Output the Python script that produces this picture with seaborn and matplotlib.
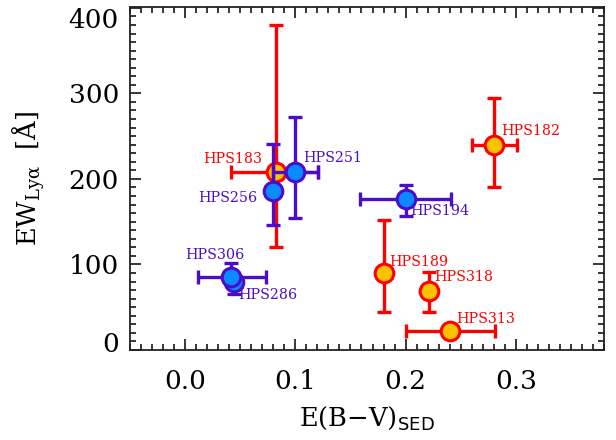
import numpy as np
import pandas as pd
import seaborn as sns
import matplotlib
matplotlib.use("Agg")
import matplotlib.pyplot as plt
from matplotlib.ticker import MultipleLocator, FixedLocator
from matplotlib.transforms import ScaledTranslation

# ---- data ----
red_names = ["HPS183", "HPS182", "HPS189", "HPS318", "HPS313"]
red_ebv = [0.082, 0.280, 0.180, 0.221, 0.240]
red_ebv_lo = [0.040, 0.020, 0.0, 0.0, 0.040]
red_ebv_hi = [0.039, 0.021, 0.0, 0.0, 0.041]
red_ew = [208, 240, 90, 69, 22]
red_ew_lo = [87, 50, 46, 25, 0]
red_ew_hi = [172, 55, 62, 22, 0]

blue_names = ["HPS251", "HPS256", "HPS194", "HPS286", "HPS306"]
blue_ebv = [0.100, 0.080, 0.200, 0.044, 0.042]
blue_ebv_lo = [0.020, 0.0, 0.041, 0.0, 0.030]
blue_ebv_hi = [0.021, 0.0, 0.041, 0.0, 0.031]
blue_ew = [208, 186, 176, 79, 85]
blue_ew_lo = [54, 40, 19, 14, 0]
blue_ew_hi = [64, 55, 17, 0, 17]

# label offsets (pixels) and alignment
red_lab = {"HPS183": (-13, 13, "right"), "HPS182": (7, 14, "left"),
           "HPS189": (6, 11, "left"), "HPS318": (5, 14, "left"),
           "HPS313": (7, 12, "left")}
blue_lab = {"HPS251": (8, 14, "left"), "HPS256": (-16, -7, "right"),
            "HPS194": (5, -12, "left"), "HPS286": (5, -13, "left"),
            "HPS306": (-17, 22, "center")}

RED = "#ff0000"
YEL = "#ffc200"
BEDGE = "#4b0ccb"
BFILL = "#0a8aff"

sns.set_theme(style="ticks")
plt.rcParams["font.family"] = ["DejaVu Serif", "DejaVu Sans"]
plt.rcParams["mathtext.fontset"] = "dejavuserif"
plt.rcParams["text.color"] = "black"
plt.rcParams["axes.labelcolor"] = "black"
plt.rcParams["xtick.color"] = "black"
plt.rcParams["ytick.color"] = "black"

fig = plt.figure(figsize=(6.16, 4.40), dpi=100)
ax = fig.add_axes([130 / 616, 1 - 350 / 440, 474 / 616, 343 / 440])

red_df = pd.DataFrame({"name": red_names, "ebv": red_ebv, "ew": red_ew})
blue_df = pd.DataFrame({"name": blue_names, "ebv": blue_ebv, "ew": blue_ew})

ebar_kw = dict(fmt="none", elinewidth=2.4, capsize=5, capthick=2.4)

ax.errorbar(red_ebv, red_ew, xerr=[red_ebv_lo, red_ebv_hi],
            yerr=[red_ew_lo, red_ew_hi], ecolor=RED, zorder=2, **ebar_kw)
sns.scatterplot(data=red_df, x="ebv", y="ew", ax=ax, s=180, color=YEL,
                edgecolor=RED, linewidth=2.2, zorder=3, legend=False)

ax.errorbar(blue_ebv, blue_ew, xerr=[blue_ebv_lo, blue_ebv_hi],
            yerr=[blue_ew_lo, blue_ew_hi], ecolor=BEDGE, zorder=4, **ebar_kw)
sns.scatterplot(data=blue_df, x="ebv", y="ew", ax=ax, s=180, color=BFILL,
                edgecolor=BEDGE, linewidth=2.2, zorder=5, legend=False)

for df, labs, col in ((red_df, red_lab, RED), (blue_df, blue_lab, BEDGE)):
    for _, r in df.iterrows():
        dx, dy, ha = labs[r["name"]]
        ax.annotate(r["name"], (r["ebv"], r["ew"]), xytext=(dx, dy),
                    textcoords="offset pixels", ha=ha, va="center",
                    color=col, fontsize=10.3, zorder=6)

ax.set_xlim(-0.05, 0.38)
ax.set_ylim(0, 401)
ax.xaxis.set_major_locator(FixedLocator([0.0, 0.1, 0.2, 0.3]))
ax.xaxis.set_minor_locator(MultipleLocator(0.01))
ax.yaxis.set_major_locator(FixedLocator([0, 100, 200, 300, 400]))
ax.yaxis.set_minor_locator(MultipleLocator(10))
ax.set_xticklabels(["0.0", "0.1", "0.2", "0.3"])
ax.set_yticklabels(["0", "100", "200", "300", "400"])

ax.tick_params(which="both", direction="in", top=True, right=True,
               color="black", labelcolor="black", width=1.1)
ax.tick_params(which="major", length=8)
ax.tick_params(which="minor", length=4)
ax.tick_params(axis="x", which="major", labelsize=19, pad=14)
ax.tick_params(axis="y", which="major", labelsize=19, pad=8)
for s in ax.spines.values():
    s.set_linewidth(1.3)
    s.set_color("#222222")

ax.set_xlabel(r"E(B$-$V)$_{\mathsf{SED}}$", fontsize=18.5, color="black")
ax.set_ylabel(r"EW$_{\mathrm{Ly\alpha}}$  [Å]", fontsize=18.5, color="black")
ax.xaxis.set_label_coords(0.5, -0.16)
ax.yaxis.set_label_coords(-0.175, 0.5)

# nudge end labels inward as in the reference
labels = ax.get_yticklabels()
labels[0].set_transform(labels[0].get_transform() + ScaledTranslation(0, 8 / 100, fig.dpi_scale_trans))
labels[-1].set_transform(labels[-1].get_transform() + ScaledTranslation(0, -10 / 100, fig.dpi_scale_trans))

fig.savefig("out.png", dpi=100)
